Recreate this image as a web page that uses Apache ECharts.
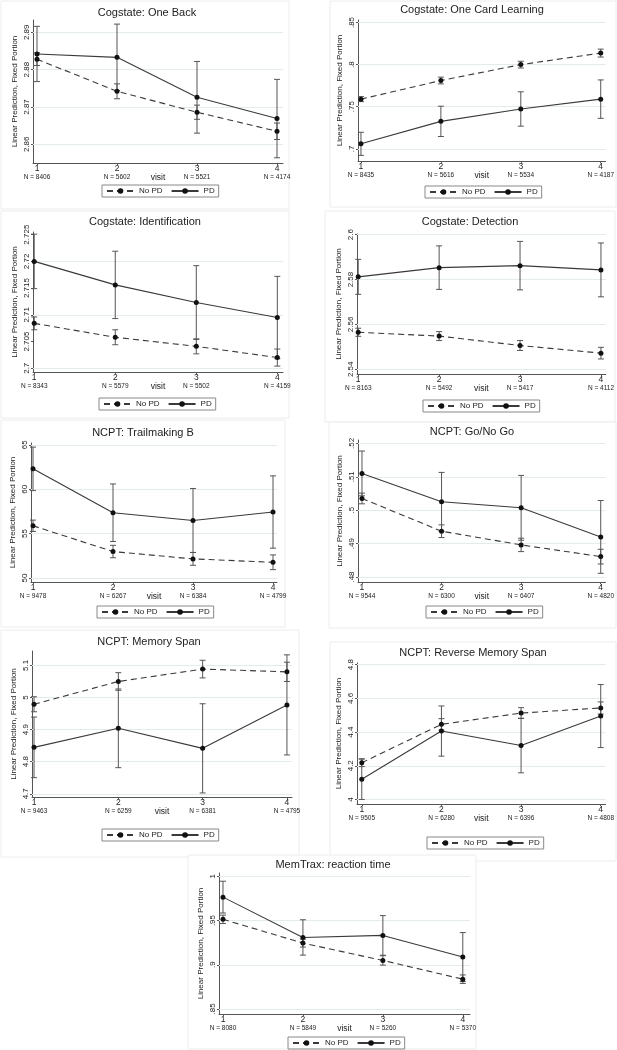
<!DOCTYPE html>
<html><head><meta charset="utf-8">
<script src="https://cdn.jsdelivr.net/npm/echarts@6/dist/echarts.min.js"></script>
<style>html,body{margin:0;padding:0;background:#fff}#c{width:617px;height:1050px}</style>
</head><body><div id="c"></div>
<script>
// ---------- DATA ----------
const visits = [1, 2, 3, 4];
const titles = ['Cogstate: One Back', 'Cogstate: One Card Learning', 'Cogstate: Identification',
  'Cogstate: Detection', 'NCPT: Trailmaking B', 'NCPT: Go/No Go', 'NCPT: Memory Span',
  'NCPT: Reverse Memory Span', 'MemTrax: reaction time'];
const seriesNames = ['No PD', 'PD'];

const nOneBack = [8406, 5602, 5521, 4174];
const nOneCard = [8435, 5616, 5534, 4187];
const nIdent = [8343, 5579, 5502, 4159];
const nDetect = [8163, 5492, 5417, 4112];
const nTrail = [9478, 6267, 6384, 4799];
const nGoNoGo = [9544, 6300, 6407, 4820];
const nMemSpan = [9463, 6259, 6381, 4795];
const nRevSpan = [9505, 6280, 6396, 4808];
const nMemTrax = [8080, 5849, 5260, 5370];

// means and CI half-widths
const oneBackNoPD = [2.8828, 2.8742, 2.8686, 2.8635];
const oneBackNoPDci = [0.0017, 0.002, 0.0019, 0.0022];
const oneBackPD = [2.8842, 2.8833, 2.8726, 2.8669];
const oneBackPDci = [0.0074, 0.0089, 0.0096, 0.0105];

const oneCardNoPD = [0.759, 0.7811, 0.8, 0.8137];
const oneCardNoPDci = [0.003, 0.004, 0.004, 0.0047];
const oneCardPD = [0.7059, 0.7326, 0.7473, 0.759];
const oneCardPDci = [0.0137, 0.018, 0.0204, 0.0228];

const identNoPD = [2.7084, 2.7058, 2.7041, 2.702];
const identNoPDci = [0.0012, 0.0014, 0.0014, 0.0016];
const identPD = [2.72, 2.7156, 2.7123, 2.7095];
const identPDci = [0.0051, 0.0063, 0.0069, 0.0077];

const detectNoPD = [2.5565, 2.5548, 2.5506, 2.5472];
const detectNoPDci = [0.0018, 0.002, 0.0022, 0.0026];
const detectPD = [2.5812, 2.5853, 2.5862, 2.5843];
const detectPDci = [0.0078, 0.0097, 0.0108, 0.012];

const trailNoPD = [55.88, 52.98, 52.15, 51.77];
const trailNoPDci = [0.64, 0.7, 0.72, 0.83];
const trailPD = [62.29, 57.35, 56.48, 57.43];
const trailPDci = [2.45, 3.24, 3.6, 4.07];

const goNoGoNoPD = [0.5035, 0.4937, 0.4896, 0.4861];
const goNoGoNoPDci = [0.0016, 0.0019, 0.002, 0.0022];
const goNoGoPD = [0.511, 0.5025, 0.5007, 0.492];
const goNoGoPDci = [0.0067, 0.0088, 0.0097, 0.0109];

const memSpanNoPD = [4.979, 5.05, 5.0886, 5.08];
const memSpanNoPDci = [0.0234, 0.0275, 0.0275, 0.03];
const memSpanPD = [4.8447, 4.904, 4.8416, 4.977];
const memSpanPDci = [0.0945, 0.1226, 0.139, 0.156];

const revSpanNoPD = [4.218, 4.4457, 4.513, 4.543];
const revSpanNoPDci = [0.023, 0.034, 0.032, 0.036];
const revSpanPD = [4.12, 4.406, 4.32, 4.495];
const revSpanPDci = [0.12, 0.149, 0.162, 0.187];

const memTraxNoPD = [0.9514, 0.9245, 0.9049, 0.8837];
const memTraxNoPDci = [0.0047, 0.0045, 0.0053, 0.0048];
const memTraxPD = [0.9765, 0.9309, 0.9332, 0.9087];
const memTraxPDci = [0.018, 0.02, 0.0224, 0.0277];

const oneBackTicks = [2.86, 2.87, 2.88, 2.89];
const oneCardTicks = [0.7, 0.75, 0.8, 0.85];
const identTicks = [2.7, 2.705, 2.71, 2.715, 2.72, 2.725];
const detectTicks = [2.54, 2.56, 2.58, 2.6];
const trailTicks = [50, 55, 60, 65];
const goNoGoTicks = [0.48, 0.49, 0.5, 0.51, 0.52];
const memSpanTicks = [4.7, 4.8, 4.9, 5, 5.1];
const revSpanTicks = [4, 4.2, 4.4, 4.6, 4.8];
const memTraxTicks = [0.85, 0.9, 0.95, 1];

const panelData = [
  [nOneBack, oneBackNoPD, oneBackNoPDci, oneBackPD, oneBackPDci, oneBackTicks],
  [nOneCard, oneCardNoPD, oneCardNoPDci, oneCardPD, oneCardPDci, oneCardTicks],
  [nIdent, identNoPD, identNoPDci, identPD, identPDci, identTicks],
  [nDetect, detectNoPD, detectNoPDci, detectPD, detectPDci, detectTicks],
  [nTrail, trailNoPD, trailNoPDci, trailPD, trailPDci, trailTicks],
  [nGoNoGo, goNoGoNoPD, goNoGoNoPDci, goNoGoPD, goNoGoPDci, goNoGoTicks],
  [nMemSpan, memSpanNoPD, memSpanNoPDci, memSpanPD, memSpanPDci, memSpanTicks],
  [nRevSpan, revSpanNoPD, revSpanNoPDci, revSpanPD, revSpanPDci, revSpanTicks],
  [nMemTrax, memTraxNoPD, memTraxNoPDci, memTraxPD, memTraxPDci, memTraxTicks]
];

// ---------- LAYOUT ----------
const layout = [
  {grid:[33,20,250,143],  x:[0.95,4.075], y:[2.855,2.8933],  title:[147,14],  legend:[102,185],  box:[1,1,288,208]},
  {grid:[358,20,251,141], x:[0.963,4.06], y:[0.6855,0.853],  title:[472,11],  legend:[425,186],  box:[330,1,286,206]},
  {grid:[33,232,250,140], x:[0.985,4.07], y:[2.6993,2.7255], title:[145,223], legend:[99,398],   box:[1,211,288,207]},
  {grid:[357,234,252,140],x:[0.985,4.06], y:[2.5379,2.6003], title:[470,223], legend:[423,400],  box:[325,211,290,211]},
  {grid:[31,443,246,139], x:[0.975,4.05], y:[49.55,65.2],    title:[143,434], legend:[97,606],   box:[1,420,284,207]},
  {grid:[358,440,251,142],x:[0.95,4.06],  y:[0.4785,0.521],  title:[472,433], legend:[426,606],  box:[329,422,287,206]},
  {grid:[32,651,260,146], x:[0.976,4.06], y:[4.69,5.145],    title:[149,643], legend:[102,829],  box:[1,630,298,227]},
  {grid:[357,663,252,141],x:[0.94,4.06],  y:[3.973,4.81],    title:[473,654], legend:[427,837],  box:[330,642,286,219]},
  {grid:[219,873,251,141],x:[0.95,4.09],  y:[0.8443,1.0038], title:[333,866], legend:[288,1037], box:[188,855,288,194]}
];

const FONT = '"Liberation Sans", Arial, Helvetica, sans-serif';
const AXIS_COLOR = '#555';
const LINE_COLOR = '#3a3a3a';
const CI_COLOR = '#555';
const GRID_COLOR = '#e3ebef';

function fmtY(v) {
  let s = String(+(+v).toFixed(4));
  return s.replace(/^0\./, '.');
}

const option = {
  animation: false,
  backgroundColor: '#fff',
  textStyle: {fontFamily: FONT},
  title: [], legend: [], grid: [], xAxis: [], yAxis: [], series: [],
  graphic: []
};

function ciSeries(i, mean, hw) {
  return {
    type: 'custom', name: 'ci', xAxisIndex: i, yAxisIndex: i, z: 2,
    encode: {x: 0, y: [1, 2]},
    data: visits.map((v, k) => [v, mean[k] - hw[k], mean[k] + hw[k]]),
    renderItem(params, api) {
      const x = api.value(0);
      const lo = api.coord([x, api.value(1)]);
      const hi = api.coord([x, api.value(2)]);
      const cw = 3;
      const st = {stroke: CI_COLOR, lineWidth: 1};
      return {type: 'group', children: [
        {type: 'line', shape: {x1: lo[0], y1: lo[1], x2: hi[0], y2: hi[1]}, style: st},
        {type: 'line', shape: {x1: lo[0] - cw, y1: lo[1], x2: lo[0] + cw, y2: lo[1]}, style: st},
        {type: 'line', shape: {x1: hi[0] - cw, y1: hi[1], x2: hi[0] + cw, y2: hi[1]}, style: st}
      ]};
    }
  };
}

panelData.forEach((pd, i) => {
  const [nArr, noMean, noCi, pdMean, pdCi, ticks] = pd;
  const L = layout[i];
  option.graphic.push({type: 'rect', silent: true, z: -10,
    shape: {x: L.box[0], y: L.box[1], width: L.box[2], height: L.box[3]},
    style: {fill: '#fff', stroke: '#ececec', lineWidth: 1}});
  option.title.push({
    text: titles[i], left: L.title[0], top: L.title[1] - 7, textAlign: 'center', padding: 0,
    textStyle: {fontSize: 11, fontWeight: 'normal', color: '#222', fontFamily: FONT}
  });
  option.legend.push({
    data: seriesNames, left: L.legend[0], top: L.legend[1], orient: 'horizontal',
    padding: [2, 4, 2, 4], itemGap: 8, itemWidth: 27, itemHeight: 7,
    borderColor: '#888', borderWidth: 1, borderRadius: 0, selectedMode: false,
    textStyle: {fontSize: 8, color: '#222', fontFamily: FONT}
  });
  option.grid.push({left: L.grid[0], top: L.grid[1], width: L.grid[2], height: L.grid[3], containLabel: false});
  option.xAxis.push({
    type: 'value', gridIndex: i, min: L.x[0], max: L.x[1],
    name: 'visit', nameLocation: 'middle', nameGap: 10, nameMoveOverlap: false,
    nameTextStyle: {fontSize: 8.5, color: '#222', fontFamily: FONT},
    axisLine: {show: true, lineStyle: {color: AXIS_COLOR, width: 1}},
    axisTick: {show: true, length: 2, customValues: visits, lineStyle: {color: AXIS_COLOR}},
    splitLine: {show: false},
    axisLabel: {
      show: true, margin: 1, customValues: visits, color: '#222', hideOverlap: false,
      formatter: v => '{a|' + v + '}\n{b|N = ' + nArr[Math.round(v) - 1] + '}',
      rich: {a: {fontSize: 8.5, lineHeight: 9, color: '#222', fontFamily: FONT},
             b: {fontSize: 6.5, lineHeight: 9, color: '#222', fontFamily: FONT}}
    }
  });
  option.yAxis.push({
    type: 'value', gridIndex: i, min: L.y[0], max: L.y[1],
    name: 'Linear Prediction, Fixed Portion', nameLocation: 'middle', nameGap: 14, nameMoveOverlap: false,
    nameTextStyle: {fontSize: 8, color: '#222', fontFamily: FONT},
    axisLine: {show: true, lineStyle: {color: AXIS_COLOR, width: 1}},
    axisTick: {show: true, length: 2, customValues: ticks, lineStyle: {color: AXIS_COLOR}},
    splitLine: {show: false},
    axisLabel: {show: true, rotate: 90, margin: 2, customValues: ticks, fontSize: 8, color: '#222',
      fontFamily: FONT, formatter: v => fmtY(v)}
  });
  option.series.push(ciSeries(i, noMean, noCi));
  option.series.push(ciSeries(i, pdMean, pdCi));
  option.series.push({
    type: 'line', name: 'No PD', xAxisIndex: i, yAxisIndex: i, z: 3,
    data: visits.map((v, k) => [v, noMean[k]]),
    symbol: 'circle', symbolSize: 5, showSymbol: true,
    lineStyle: {color: LINE_COLOR, width: 1.1, type: [6, 4]},
    itemStyle: {color: '#111'},
    markLine: {silent: true, symbol: ['none', 'none'], label: {show: false}, z: 1,
      lineStyle: {color: GRID_COLOR, type: 'solid', width: 1},
      data: ticks.map(t => ({yAxis: t}))}
  });
  option.series.push({
    type: 'line', name: 'PD', xAxisIndex: i, yAxisIndex: i, z: 3,
    data: visits.map((v, k) => [v, pdMean[k]]),
    symbol: 'circle', symbolSize: 5, showSymbol: true,
    lineStyle: {color: LINE_COLOR, width: 1.1, type: 'solid'},
    itemStyle: {color: '#111'}
  });
});

const chart = echarts.init(document.getElementById('c'), null, {renderer: 'canvas'});
chart.setOption(option);
</script>
</body></html>
